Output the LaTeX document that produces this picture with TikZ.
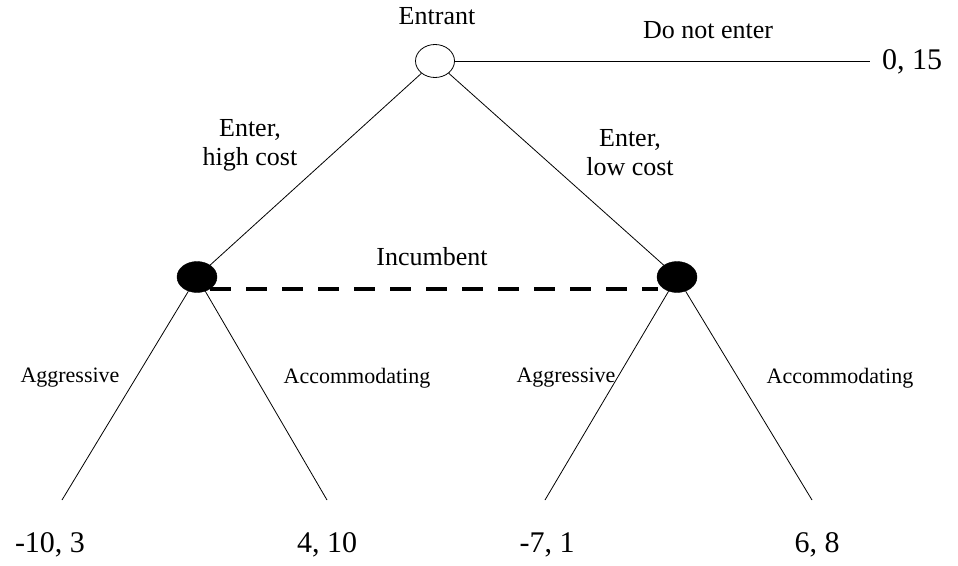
\documentclass[tikz,border=0pt]{standalone}
\usepackage{fontspec}
\setmainfont{Liberation Serif}
\usetikzlibrary{shapes.geometric}
\begin{document}
\begin{tikzpicture}[x=1pt,y=-1pt,
  edge/.style={draw=black,line width=0.8pt},
  opennode/.style={ellipse,draw=black,line width=0.8pt,fill=white,minimum width=39pt,minimum height=33pt,inner sep=0pt},
  fullnode/.style={ellipse,draw=black,fill=black,minimum width=40pt,minimum height=31pt,inner sep=0pt},
  toplbl/.style={font=\fontsize{26}{29}\selectfont,inner sep=0pt,align=center},
  lbl/.style={font=\fontsize{22}{24}\selectfont,inner sep=0pt,align=center},
  pay/.style={font=\fontsize{30}{32}\selectfont,inner sep=0pt},
  infoset/.style={line width=4.5pt,dash pattern=on 21pt off 15pt}]
\useasboundingbox (0,0) rectangle (958,565);
% coordinates
\coordinate (dne) at (870,61);
\coordinate (l1) at (62,500);
\coordinate (l2) at (327,500);
\coordinate (l3) at (545,500);
\coordinate (l4) at (812,500);
\coordinate (isL) at (210,289);
\coordinate (isR) at (658,289);
% information set
\draw[infoset] (isL) -- (isR);
% nodes
\node[opennode] (E) at (435,61) {};
\node[fullnode] (L) at (197,277) {};
\node[fullnode] (R) at (677,277) {};
% edges
\draw[edge] (E) -- (L);
\draw[edge] (E) -- (R);
\draw[edge] (E.east) -- (dne);
\draw[edge] (L) -- (l1);
\draw[edge] (L) -- (l2);
\draw[edge] (R) -- (l3);
\draw[edge] (R) -- (l4);
% labels
\node[toplbl] (tE) at (437,16) {Entrant};
\node[toplbl] (tD) at (708,30) {Do not enter};
\node[toplbl] (tH) at (250,145) {Enter,\\high cost};
\node[toplbl] (tLc) at (630,153) {Enter,\\low cost};
\node[toplbl] (tI) at (432,257) {Incumbent};
\node[lbl] (a1) at (70,378) {Aggressive};
\node[lbl] (a2) at (357,378) {Accommodating};
\node[lbl] (a3) at (566,378) {Aggressive};
\node[lbl] (a4) at (840,378) {Accommodating};
% payoffs
\node[pay] (p0) at (912,62) {0, 15};
\node[pay] (p1) at (50,545) {-10, 3};
\node[pay] (p2) at (327,545) {4, 10};
\node[pay] (p3) at (547,545) {-7, 1};
\node[pay] (p4) at (817,545) {6, 8};
\end{tikzpicture}
\end{document}
